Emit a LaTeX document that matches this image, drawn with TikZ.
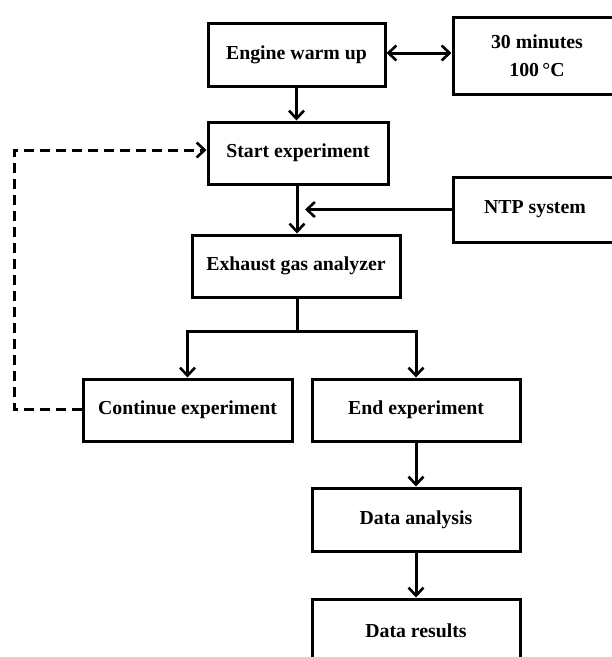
\documentclass[tikz,border=0pt]{standalone}
\usepackage{fontspec}
\setmainfont{Liberation Serif}
\usetikzlibrary{arrows.meta}
\begin{document}
\begin{tikzpicture}[x=1pt,y=-1pt,
  box/.style={draw=black,line width=3pt,rectangle,inner sep=0pt,align=center,
    font=\fontsize{19.8}{28}\selectfont\bfseries},
  conn/.style={line width=3pt},
  arr/.style={conn,-{Straight Barb[length=8pt,width=15pt,line width=2.6pt]}},
  darr/.style={conn,{Straight Barb[length=8pt,width=15pt,line width=2.6pt]}-{Straight Barb[length=8pt,width=15pt,line width=2.6pt]}},
  dsh/.style={dash pattern=on 10pt off 6pt}]
\useasboundingbox (0,0) rectangle (612,657);
\begin{scope}
\clip (0,0) rectangle (612,657);
\node[box,minimum width=177pt,minimum height=63pt] (ewu) at (296.5,54.5) {Engine warm up};
\node[box,minimum width=168pt,minimum height=77pt] (tmin) at (537,55.5) {30 minutes\\100\,°C};
\node[box,minimum width=180pt,minimum height=62pt] (start) at (298,153) {Start experiment};
\node[box,minimum width=164pt,minimum height=65pt] (ntp) at (535,209.5) {NTP system};
\node[box,minimum width=208pt,minimum height=62pt] (exh) at (296,266) {Exhaust gas analyzer};
\node[box,minimum width=209pt,minimum height=62pt] (cont) at (187.5,410) {Continue experiment};
\node[box,minimum width=208pt,minimum height=62pt] (end) at (416,410) {End experiment};
\node[box,minimum width=208pt,minimum height=63pt] (da) at (416,519.5) {Data analysis};
\node[box,minimum width=208pt,minimum height=63pt] (dr) at (416,630.5) {Data results};

\coordinate (ntpin) at (305,209.5);
\coordinate (br) at (297,331);
\coordinate (lp) at (14,409);
\coordinate (up) at (14,150);

\draw[darr] (ewu.east |- 0,53) -- (tmin.west |- 0,53);
\draw[arr] (ewu.south) -- (start.north -| ewu.south);
\draw[arr] (start.south -| br) -- (exh.north -| br);
\draw[arr] (ntp.west) -- (ntpin);
\draw[conn] (exh.south -| br) -- (br);
\draw[arr] (br) -| (cont.north);
\draw[arr] (br) -| (end.north);
\draw[arr] (end.south) -- (da.north);
\draw[arr] (da.south) -- (dr.north);
\draw[arr,dsh] (cont.west |- lp) -- (lp) -- (up) -- (start.west |- up);
\end{scope}
\end{tikzpicture}
\end{document}
